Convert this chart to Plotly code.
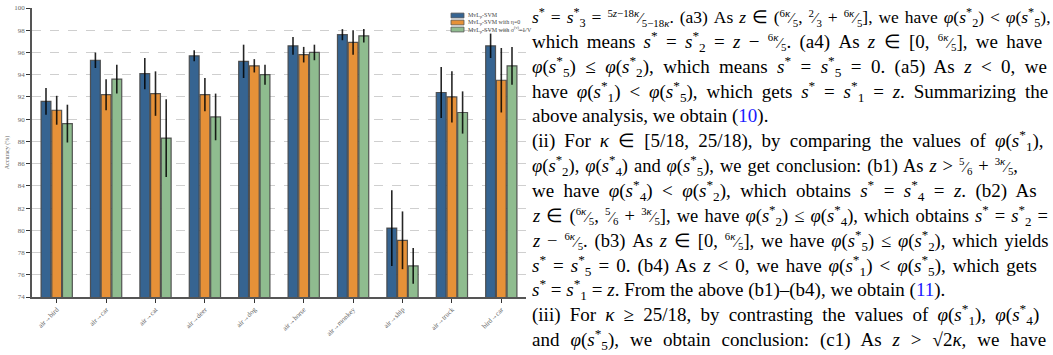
import re
import plotly.graph_objects as go

categories = ["air→bird", "air→car", "air→cat", "air→deer", "air→dog",
              "air→horse", "air→monkey", "air→ship", "air→truck", "bird→car"]
series_names = ["MvL<sub>p</sub>-SVM", "MvL<sub>p</sub>-SVM with η=0",
                "MvL<sub>p</sub>-SVM with σ<sup>(v)</sup>=1/V"]
mvl = [91.6, 95.3, 94.1, 95.7, 95.2, 96.6, 97.6, 80.2, 92.4, 96.6]
mvl_err = [1.2, 0.7, 1.4, 0.5, 1.5, 0.8, 0.5, 3.4, 2.3, 1.1]
eta0 = [90.8, 92.2, 92.3, 92.2, 94.8, 95.8, 96.9, 79.1, 92.0, 93.5]
eta0_err = [1.3, 1.4, 2.0, 1.5, 0.6, 0.7, 1.1, 2.6, 2.3, 2.9]
sig = [89.6, 93.6, 88.3, 90.2, 94.0, 96.0, 97.5, 76.8, 90.6, 94.8]
sig_err = [1.7, 1.3, 3.5, 2.1, 0.9, 0.7, 0.6, 1.6, 1.9, 1.7]
colors = ["#366491", "#e69138", "#8fbc8f"]
y_ticks = list(range(74, 101, 2))

W, H = 1053, 355
L, T, B = 32, 8, 58
PW = W - L

def px_x(px):
    return (px - L) / PW

def px_y(py):
    return 1 - (py - T) / (H - T - B)

fig = go.Figure()
for name, vals, errs, col in zip(series_names, [mvl, eta0, sig],
                                  [mvl_err, eta0_err, sig_err], colors):
    fig.add_trace(go.Bar(
        x=categories, y=vals, name=name, showlegend=False,
        marker=dict(color=col, line=dict(color="rgba(70,70,70,0.9)", width=1.2)),
        error_y=dict(type="data", array=errs, visible=True, color="rgba(0,0,0,0.85)",
                     thickness=1.6, width=0),
    ))

serif = "Liberation Serif, Times New Roman, serif"
fig.update_layout(
    width=W, height=H,
    margin=dict(l=L, r=0, t=T, b=B),
    paper_bgcolor="white", plot_bgcolor="white",
    barmode="group", bargap=0.35, bargroupgap=0.08,
    font=dict(family=serif, color="#555"),
    showlegend=False,
    xaxis=dict(domain=[0, px_x(526)], showline=True, linecolor="#555", linewidth=1.5,
               ticks="outside", ticklen=4, tickcolor="#333", tickwidth=1.2,
               tickangle=-45, tickfont=dict(size=7, family=serif, color="#666"),
               showgrid=False, range=[-0.5, 9.5]),
    yaxis=dict(range=[74, 100], tickvals=y_ticks, showline=True, linecolor="#555",
               linewidth=1.8, ticks="outside", ticklen=4, tickcolor="#333",
               tickfont=dict(size=7, family=serif, color="#666"),
               showgrid=True, gridcolor="#cfcfcf", griddash="dash", gridwidth=1,
               zeroline=False,
               title=dict(text="Accuracy (%)", font=dict(size=6, family=serif, color="#666"),
                          standoff=4)),
)

# compact legend (top right inside the plot)
for i, (name, col) in enumerate(zip(series_names, colors)):
    yc = 15.5 + 7 * i
    fig.add_shape(type="rect", xref="paper", yref="paper",
                  x0=px_x(451), x1=px_x(464), y0=px_y(yc - 2.4), y1=px_y(yc + 2.4),
                  fillcolor=col, line=dict(color="#555", width=0.8))
    fig.add_annotation(text=name, xref="paper", yref="paper", x=px_x(466), y=px_y(yc),
                       xanchor="left", yanchor="middle", showarrow=False,
                       font=dict(size=6, family=serif, color="#444"))

def fr(a, b):
    return f"<span style='font-size:15.5px'><sup>{a}</sup>⁄<sub>{b}</sub></span>"

def s(sub):
    return f"<i>s</i><sup>*</sup><sub>{sub}</sub>"

S = "<i>s</i><sup>*</sup>"
k = "<i>κ</i>"
z = "<i>z</i>"
phi = "<i>φ</i>"
blue10 = "<span style='color:#1a1aff'>10</span>"
blue11 = "<span style='color:#1a1aff'>11</span>"

lines = [
    f"{S} = {s(3)} = {fr('5'+z+'−18'+k, '5−18'+k)}. (a3) As {z} ∈ ({fr('6'+k,'5')}, {fr('2','3')} + {fr('6'+k,'5')}], we have {phi}({s(2)}) &lt; {phi}({s(5)}),",
    f"which means {S} = {s(2)} = {z} − {fr('6'+k,'5')}. (a4) As {z} ∈ [0, {fr('6'+k,'5')}], we have",
    f"{phi}({s(5)}) ≤ {phi}({s(2)}), which means {S} = {s(5)} = 0. (a5) As {z} &lt; 0, we",
    f"have {phi}({s(1)}) &lt; {phi}({s(5)}), which gets {S} = {s(1)} = {z}. Summarizing the",
    f"above analysis, we obtain ({blue10}).",
    f"(ii) For {k} ∈ [5/18, 25/18), by comparing the values of {phi}({s(1)}),",
    f"{phi}({s(2)}), {phi}({s(4)}) and {phi}({s(5)}), we get conclusion: (b1) As {z} &gt; {fr('5','6')} + {fr('3'+k,'5')},",
    f"we have {phi}({s(4)}) &lt; {phi}({s(2)}), which obtains {S} = {s(4)} = {z}. (b2) As",
    f"{z} ∈ ({fr('6'+k,'5')}, {fr('5','6')} + {fr('3'+k,'5')}], we have {phi}({s(2)}) ≤ {phi}({s(4)}), which obtains {S} = {s(2)} =",
    f"{z} − {fr('6'+k,'5')}. (b3) As {z} ∈ [0, {fr('6'+k,'5')}], we have {phi}({s(5)}) ≤ {phi}({s(2)}), which yields",
    f"{S} = {s(5)} = 0. (b4) As {z} &lt; 0, we have {phi}({s(1)}) &lt; {phi}({s(5)}), which gets",
    f"{S} = {s(1)} = {z}. From the above (b1)–(b4), we obtain ({blue11}).",
    f"(iii) For {k} ≥ 25/18, by contrasting the values of {phi}({s(1)}), {phi}({s(4)})",
    f"and {phi}({s(5)}), we obtain conclusion: (c1) As {z} &gt; √2{k}, we have",
]
sizes = [17.5, 19, 19, 19, 19, 19, 18.5, 19, 18.5, 18.5, 19, 19, 19, 19]
# extra width (px) to spread over word gaps so lines look justified
extra = [26, 57, 70, 49, 0, 48, 17, 60, 24, 34, 36, 0, 49, 68]

for i, (txt, fs, ex) in enumerate(zip(lines, sizes, extra)):
    visible = re.sub(r"<[^>]*>", "", txt)
    n_gaps = max(visible.count(" "), 1)
    ws = ex / n_gaps
    body = f"<span style='word-spacing:{ws:.2f}px'>{txt}</span>" if ex else txt
    fig.add_annotation(text=body, xref="paper", yref="paper",
                       x=px_x(530), y=px_y(17 + 24.8 * i), xanchor="left", yanchor="middle",
                       showarrow=False, align="left",
                       font=dict(size=fs, family=serif, color="black"))

fig.write_html("out.html")
